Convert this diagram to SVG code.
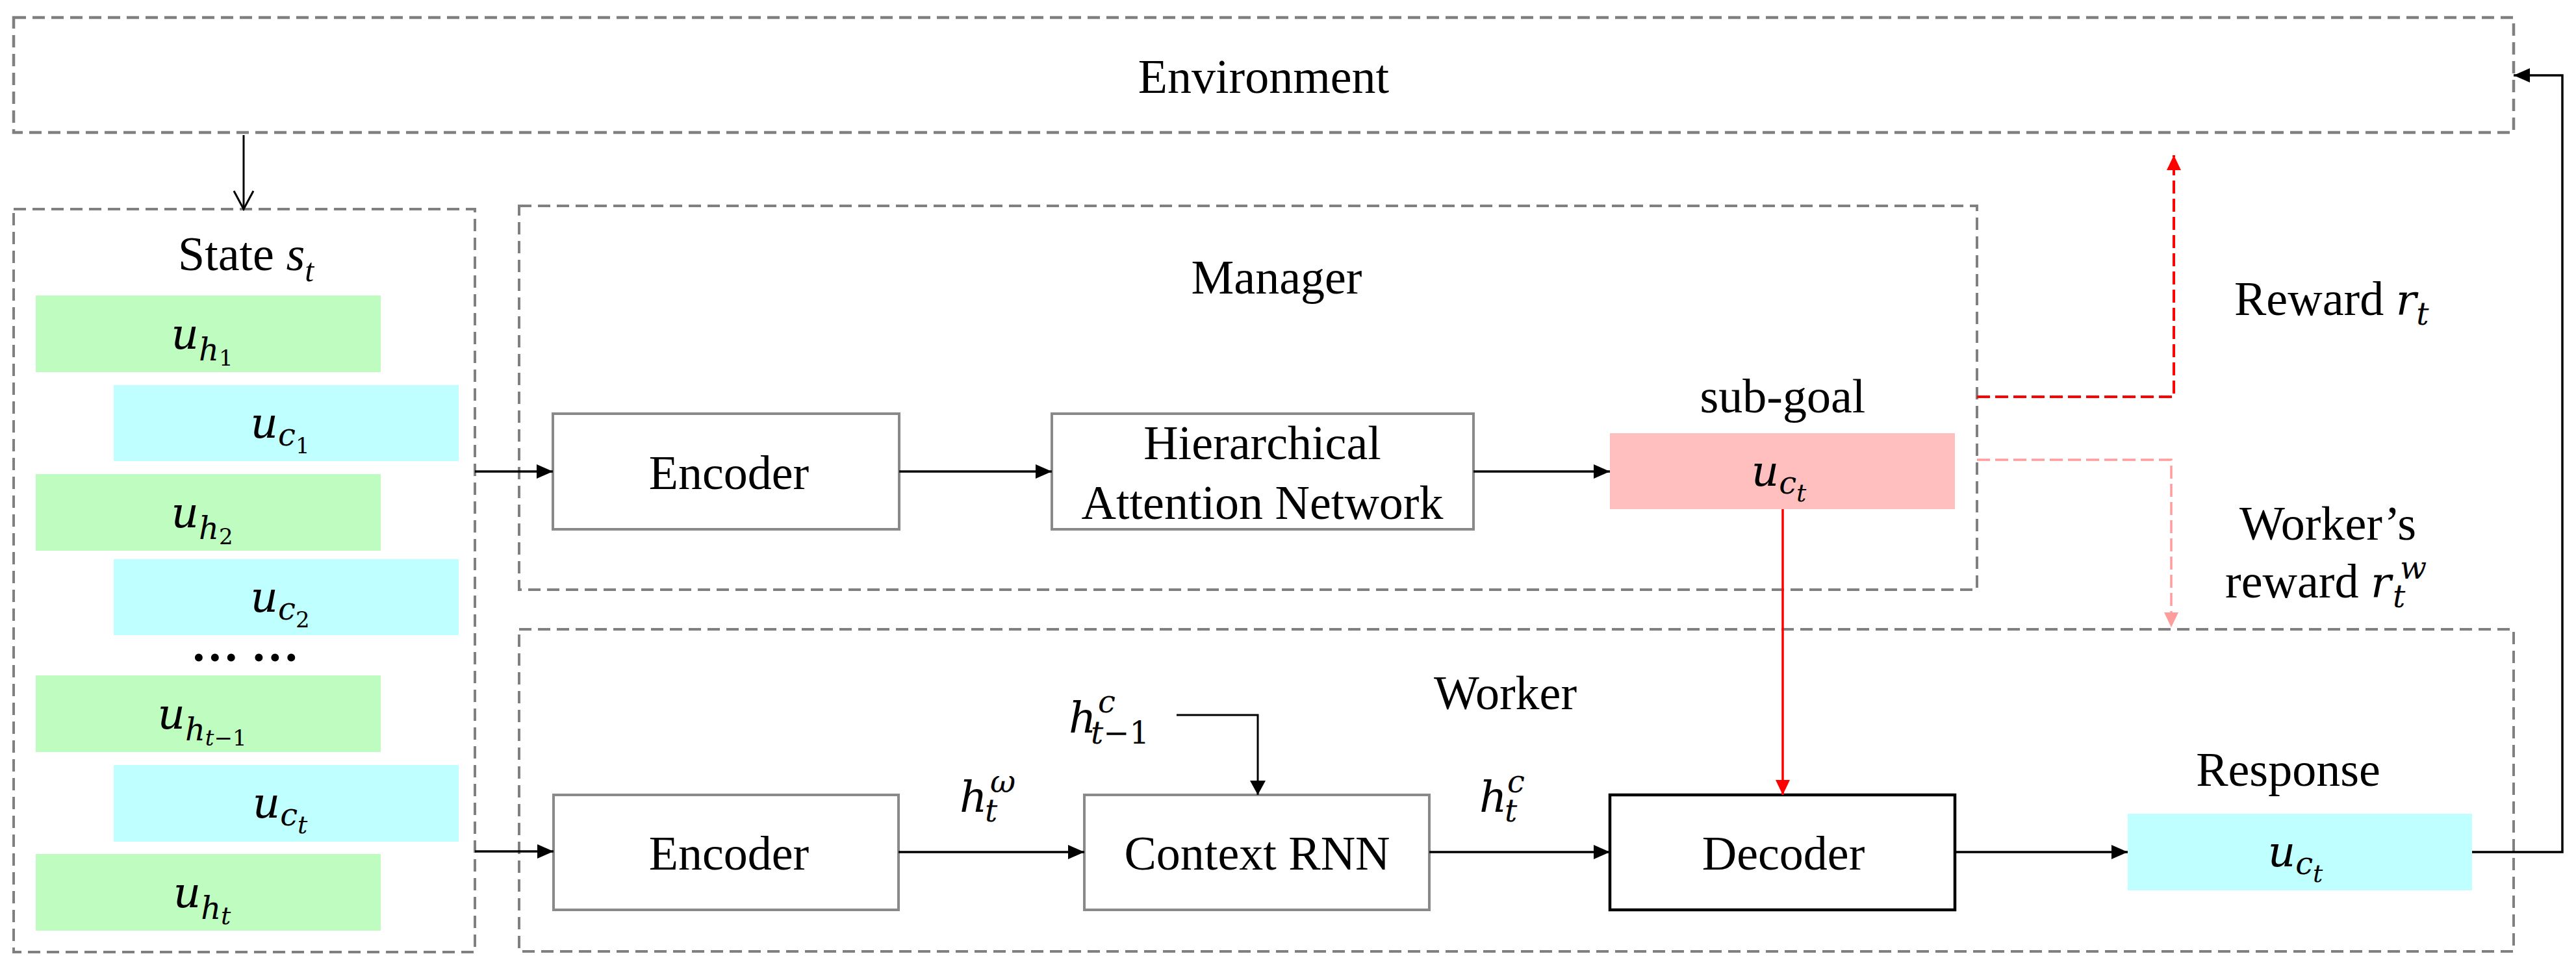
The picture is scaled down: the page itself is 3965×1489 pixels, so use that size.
<svg xmlns="http://www.w3.org/2000/svg" width="3965" height="1489" viewBox="0 0 3965 1489">
<style>
.bg{fill:#fff}
.grp{fill:none;stroke:#808080;stroke-width:4;stroke-dasharray:19 10}
.env{stroke-width:4.5}
.node{fill:#fff;stroke:#898989;stroke-width:4}
.dec{fill:#fff;stroke:#000;stroke-width:4.5}
.green{fill:#bffcbf}
.cyan{fill:#bfffff}
.pink{fill:#ffbfbf}
.t{font-family:"Liberation Serif","Times New Roman",serif;font-size:74px;fill:#000}
.ti{font-family:"Liberation Serif","Times New Roman",serif;font-style:italic;fill:#000}
.m{font-family:"DejaVu Serif",serif;font-style:italic;font-size:66px;fill:#000}
.s1{font-size:48px}
.s2{font-size:34px}
.s3{font-size:38px}
.n{font-style:normal}
.ln{fill:none;stroke:#000;stroke-width:3.5}
.thin{fill:none;stroke:#000;stroke-width:3}
.red{fill:none;stroke:#ff0000;stroke-width:3.5}
.redd{fill:none;stroke:#ff0000;stroke-width:4;stroke-dasharray:20 8}
.pinkd{fill:none;stroke:#ff9d9d;stroke-width:3.5;stroke-dasharray:20 8}
</style>
<defs>
<marker id="ah" markerUnits="userSpaceOnUse" markerWidth="26" markerHeight="22" refX="25" refY="11" orient="auto" overflow="visible"><path d="M0,0 L25,11 L0,22 z" fill="#000"/></marker>
<marker id="ahn" markerUnits="userSpaceOnUse" markerWidth="23" markerHeight="24" refX="22" refY="12" orient="auto" overflow="visible"><path d="M0,0 L22,12 L0,24 z" fill="#000"/></marker>
<marker id="av" markerUnits="userSpaceOnUse" markerWidth="30" markerHeight="30" refX="28" refY="15" orient="auto" overflow="visible"><path d="M0,0 L28,15 L0,30" fill="none" stroke="#000" stroke-width="3"/></marker>
<marker id="ar" markerUnits="userSpaceOnUse" markerWidth="24" markerHeight="22" refX="23" refY="11" orient="auto" overflow="visible"><path d="M0,0 L23,11 L0,22 z" fill="#ff0000"/></marker>
<marker id="ap" markerUnits="userSpaceOnUse" markerWidth="24" markerHeight="22" refX="23" refY="11" orient="auto" overflow="visible"><path d="M0,0 L23,11 L0,22 z" fill="#ff9d9d"/></marker>
</defs>
<rect class="bg" x="0" y="0" width="3965" height="1489"/>

<g id="environment">
<rect class="grp env" x="21" y="27" width="3848" height="177"/>
<text class="t" x="1945" y="143" text-anchor="middle">Environment</text>
</g>

<g id="state">
<rect class="grp" x="21" y="322" width="710" height="1144"/>
<text class="t" x="274" y="416">State <tspan class="ti">s</tspan><tspan class="ti" font-size="50" dy="17">t</tspan></text>
<g id="u_h1"><rect class="green" x="55" y="455" width="531" height="118"/>
<text class="m" x="311" y="537" text-anchor="middle">u<tspan class="s1" dy="18">h</tspan><tspan class="s2 n" dy="8">1</tspan></text></g>
<g id="u_c1"><rect class="cyan" x="175" y="593" width="531" height="117"/>
<text class="m" x="431" y="674" text-anchor="middle">u<tspan class="s1" dy="12">c</tspan><tspan class="s2 n" dy="12">1</tspan></text></g>
<g id="u_h2"><rect class="green" x="55" y="730" width="531" height="118"/>
<text class="m" x="311" y="812" text-anchor="middle">u<tspan class="s1" dy="18">h</tspan><tspan class="s2 n" dy="8">2</tspan></text></g>
<g id="u_c2"><rect class="cyan" x="175" y="861" width="531" height="117"/>
<text class="m" x="431" y="942" text-anchor="middle">u<tspan class="s1" dy="12">c</tspan><tspan class="s2 n" dy="12">2</tspan></text></g>
<text class="t" x="377" y="1018" text-anchor="middle" font-size="58" font-weight="bold">… …</text>
<g id="u_ht-1"><rect class="green" x="55" y="1040" width="531" height="118"/>
<text class="m" x="311" y="1122" text-anchor="middle">u<tspan class="s1" dy="18">h</tspan><tspan class="s2" dy="8">t</tspan><tspan class="s2 n">−1</tspan></text></g>
<g id="u_ct_state"><rect class="cyan" x="175" y="1178" width="531" height="118"/>
<text class="m" x="431" y="1259" text-anchor="middle">u<tspan class="s1" dy="12">c</tspan><tspan class="s3" dy="12">t</tspan></text></g>
<g id="u_ht"><rect class="green" x="55" y="1315" width="531" height="118"/>
<text class="m" x="311" y="1397" text-anchor="middle">u<tspan class="s1" dy="18">h</tspan><tspan class="s3" dy="8">t</tspan></text></g>
</g>

<g id="manager">
<rect class="grp" x="799" y="317" width="2244" height="591"/>
<text class="t" x="1965" y="452" text-anchor="middle">Manager</text>
</g>
<g id="manager-encoder">
<rect class="node" x="851" y="637" width="533" height="178"/>
<text class="t" x="1122" y="753" text-anchor="middle">Encoder</text>
</g>
<g id="han">
<rect class="node" x="1619" y="637" width="649" height="178"/>
<text class="t" x="1943" y="707" text-anchor="middle">Hierarchical</text>
<text class="t" x="1943" y="799" text-anchor="middle">Attention Network</text>
</g>
<g id="subgoal">
<text class="t" x="2744" y="635" text-anchor="middle">sub-goal</text>
<rect class="pink" x="2478" y="667" width="531" height="117"/>
<text class="m" x="2738" y="748" text-anchor="middle">u<tspan class="s1" dy="12">c</tspan><tspan class="s3" dy="12">t</tspan></text>
</g>

<g id="worker">
<rect class="grp" x="799" y="969" width="3070" height="496"/>
<text class="t" x="2317" y="1092" text-anchor="middle">Worker</text>
</g>
<g id="worker-encoder">
<rect class="node" x="852" y="1224" width="531" height="177"/>
<text class="t" x="1122" y="1339" text-anchor="middle">Encoder</text>
</g>
<g id="context-rnn">
<rect class="node" x="1669" y="1224" width="531" height="177"/>
<text class="t" x="1935" y="1339" text-anchor="middle">Context RNN</text>
</g>
<g id="decoder">
<rect class="dec" x="2478" y="1224" width="531" height="177"/>
<text class="t" x="2745" y="1339" text-anchor="middle">Decoder</text>
</g>
<g id="response">
<text class="t" x="3522" y="1210" text-anchor="middle">Response</text>
<rect class="cyan" x="3275" y="1253" width="530" height="118"/>
<text class="m" x="3533" y="1334" text-anchor="middle">u<tspan class="s1" dy="12">c</tspan><tspan class="s3" dy="12">t</tspan></text>
</g>

<g id="labels">
<text class="t" x="3439" y="485">Reward <tspan class="m">r</tspan><tspan class="m s1" dy="15">t</tspan></text>
<text class="t" x="3583" y="831" text-anchor="middle">Worker’s</text>
<text class="t" x="3425" y="920">reward <tspan class="m">r</tspan><tspan class="m s1" x="3683" y="935">t</tspan><tspan class="m s1" x="3694" y="891">w</tspan></text>
<text class="m" x="1645" y="1128">h<tspan class="s1" x="1690" y="1097">c</tspan><tspan class="s1" x="1679" y="1145">t</tspan><tspan class="s1 n">−1</tspan></text>
<text class="m" x="1477" y="1250">h<tspan class="s1" x="1516" y="1265">t</tspan><tspan class="s1" x="1524" y="1220">ω</tspan></text>
<text class="m" x="2277" y="1250">h<tspan class="s1" x="2316" y="1265">t</tspan><tspan class="s1" x="2320" y="1220">c</tspan></text>
</g>

<g id="connectors">
<line class="thin" x1="375" y1="208" x2="375" y2="322" marker-end="url(#av)"/>
<line class="ln" x1="731" y1="726" x2="851" y2="726" marker-end="url(#ah)"/>
<line class="ln" x1="1384" y1="726" x2="1619" y2="726" marker-end="url(#ah)"/>
<line class="ln" x1="2268" y1="726" x2="2478" y2="726" marker-end="url(#ah)"/>
<line class="red" x1="2744" y1="784" x2="2744" y2="1224" marker-end="url(#ar)"/>
<polyline class="redd" points="3043,611 3346,611 3346,239" marker-end="url(#ar)"/>
<polyline class="pinkd" points="3043,708 3342,708 3342,966" marker-end="url(#ap)"/>
<line class="ln" x1="731" y1="1311" x2="852" y2="1311" marker-end="url(#ah)"/>
<line class="ln" x1="1383" y1="1312" x2="1669" y2="1312" marker-end="url(#ah)"/>
<polyline class="thin" points="1811,1101 1936,1101 1936,1224" marker-end="url(#ahn)"/>
<line class="ln" x1="2200" y1="1312" x2="2478" y2="1312" marker-end="url(#ah)"/>
<line class="ln" x1="3009" y1="1312" x2="3275" y2="1312" marker-end="url(#ah)"/>
<polyline class="ln" points="3805,1312 3944,1312 3944,116 3869,116" marker-end="url(#ah)"/>
</g>
</svg>
